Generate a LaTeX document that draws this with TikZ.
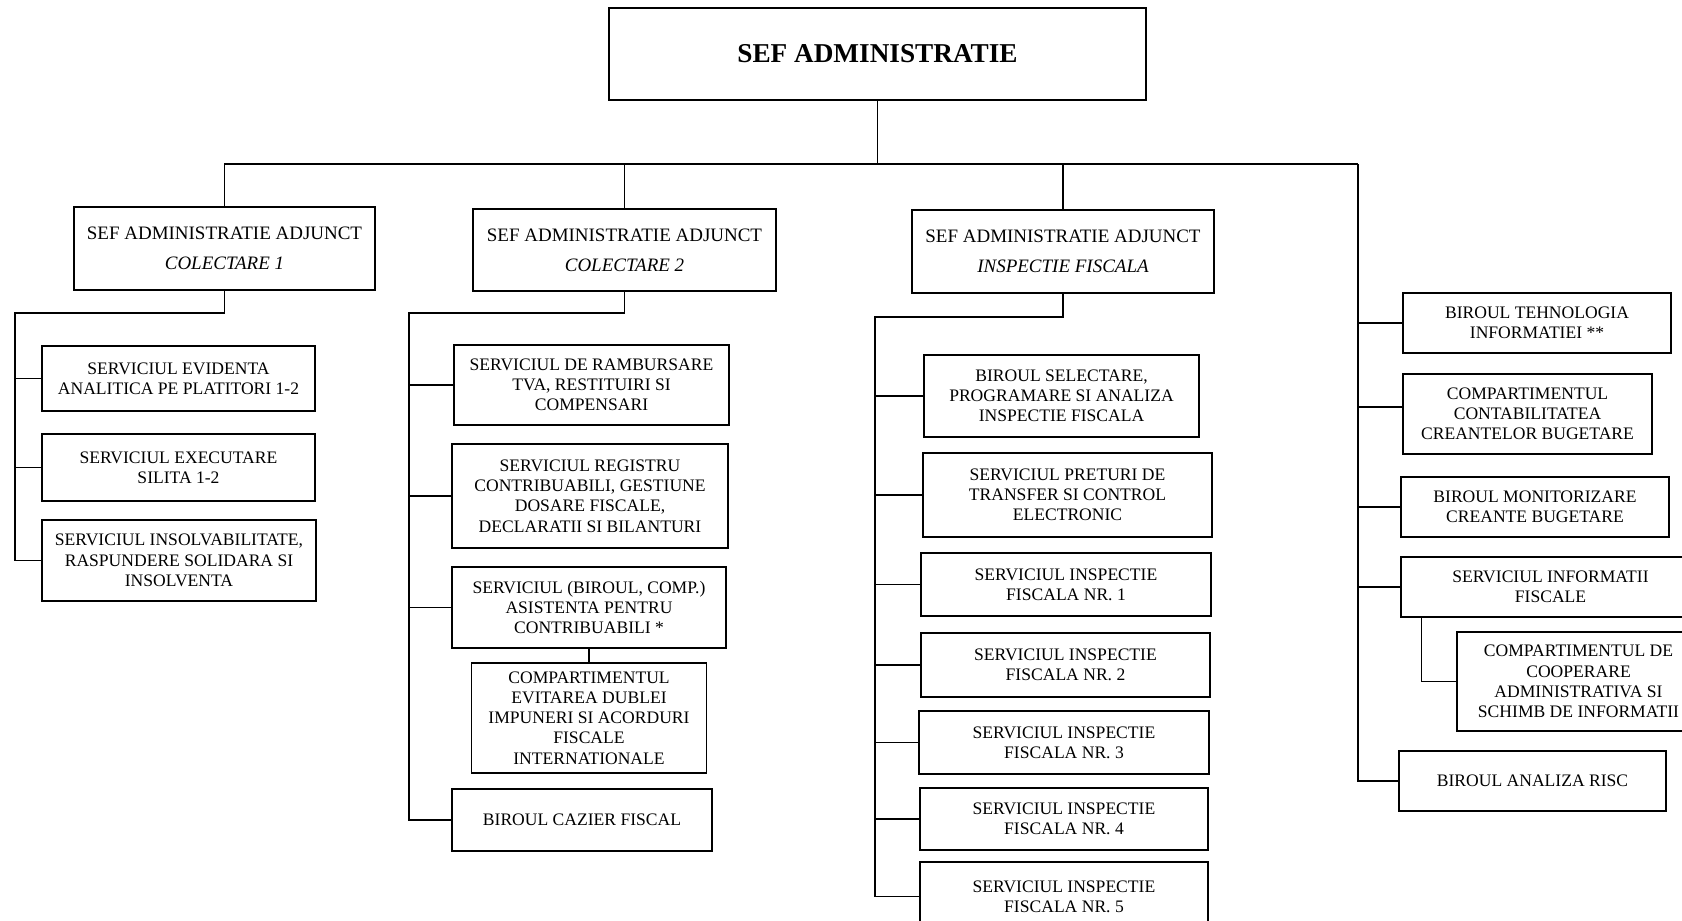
\documentclass[tikz,border=0pt]{standalone}
\usepackage{fontspec}
\setmainfont{Liberation Serif}
\begin{document}
\begin{tikzpicture}[x=0.02cm,y=-0.02cm,
  box/.style={draw, line width=0.9pt, inner sep=0pt, align=center, font=\fontsize{10}{11.5}\selectfont},
  sz/.style 2 args={minimum width=#1*0.02cm, minimum height=#2*0.02cm},
  head/.style={box, font=\fontsize{10.8}{17}\selectfont},
  topbox/.style={box, font=\fontsize{15.5}{19}\selectfont\bfseries},
  link/.style={line width=0.8pt}]
\useasboundingbox (0,0) rectangle (1682,920);
\clip (0,0) rectangle (1682,920);
\fill[white] (0,0) rectangle (1682,920);

% top
\node[topbox, sz={537}{92}] (top) at (877.5,54) {SEF ADMINISTRATIE};
% deputies
\node[head, sz={301}{83}] (b1) at (224.5,248.5) {SEF ADMINISTRATIE ADJUNCT\\\textit{COLECTARE 1}};
\node[head, sz={303}{82}] (b2) at (624.5,250) {SEF ADMINISTRATIE ADJUNCT\\\textit{COLECTARE 2}};
\node[head, sz={302}{83}] (b3) at (1063,251.5) {SEF ADMINISTRATIE ADJUNCT\\\textit{INSPECTIE FISCALA}};

% column 1
\node[box, sz={273}{65}] (c1a) at (178.5,378.5) {SERVICIUL EVIDENTA\\ANALITICA PE PLATITORI 1-2};
\node[box, sz={273}{67}] (c1b) at (178.5,467.5) {SERVICIUL EXECUTARE\\SILITA 1-2};
\node[box, sz={274}{81}] (c1c) at (179,560.5) {SERVICIUL INSOLVABILITATE,\\RASPUNDERE SOLIDARA SI\\INSOLVENTA};

% column 2
\node[box, sz={275}{80}] (c2a) at (591.5,385) {SERVICIUL DE RAMBURSARE\\TVA, RESTITUIRI SI\\COMPENSARI};
\node[box, sz={276}{104}] (c2b) at (590,496) {SERVICIUL REGISTRU\\CONTRIBUABILI, GESTIUNE\\DOSARE FISCALE,\\DECLARATII SI BILANTURI};
\node[box, sz={274}{81}] (c2c) at (589,607.5) {SERVICIUL (BIROUL, COMP.)\\ASISTENTA PENTRU\\CONTRIBUABILI *};
\node[box, sz={235}{110}] (c2d) at (589,718) {COMPARTIMENTUL\\EVITAREA DUBLEI\\IMPUNERI SI ACORDURI\\FISCALE\\INTERNATIONALE};
\node[box, sz={260}{62}] (c2e) at (582,820) {BIROUL CAZIER FISCAL};

% column 3
\node[box, sz={275}{82}] (c3a) at (1061.5,396) {BIROUL SELECTARE,\\PROGRAMARE SI ANALIZA\\INSPECTIE FISCALA};
\node[box, sz={289}{84}] (c3b) at (1067.5,495) {SERVICIUL PRETURI DE\\TRANSFER SI CONTROL\\ELECTRONIC};
\node[box, sz={290}{63}] (c3c) at (1066,584.5) {SERVICIUL INSPECTIE\\FISCALA NR. 1};
\node[box, sz={289}{64}] (c3d) at (1065.5,665) {SERVICIUL INSPECTIE\\FISCALA NR. 2};
\node[box, sz={290}{63}] (c3e) at (1064,742.5) {SERVICIUL INSPECTIE\\FISCALA NR. 3};
\node[box, sz={288}{62}] (c3f) at (1064,819) {SERVICIUL INSPECTIE\\FISCALA NR. 4};
\node[box, sz={288}{69}] (c3g) at (1064,896.5) {SERVICIUL INSPECTIE\\FISCALA NR. 5};

% right column
\node[box, sz={268}{60}] (r1) at (1537,323) {BIROUL TEHNOLOGIA\\INFORMATIEI **};
\node[box, sz={249}{80}] (r2) at (1527.5,414) {COMPARTIMENTUL\\CONTABILITATEA\\CREANTELOR BUGETARE};
\node[box, sz={268}{60}] (r3) at (1535,507) {BIROUL MONITORIZARE\\CREANTE BUGETARE};
\node[box, sz={299}{60}] (r4) at (1550.5,587) {SERVICIUL INFORMATII\\FISCALE};
\node[box, sz={243}{99}] (r5) at (1578.5,681.5) {COMPARTIMENTUL DE\\COOPERARE\\ADMINISTRATIVA SI\\SCHIMB DE INFORMATII};
\node[box, sz={267}{60}] (r6) at (1532.5,781) {BIROUL ANALIZA RISC};

% connectors: top level
\coordinate (bus) at (0,164);
\coordinate (rtop) at (1358,164);
\draw[link] (top.south) -- (top.south |- bus);
\draw[link] (b1.north) |- (rtop);
\draw[link] (b2.north) -- (b2.north |- bus);
\draw[link] (b3.north) -- (b3.north |- bus);
\draw[link] (rtop) |- (r6.west);
\draw[link] (rtop |- r1.west) -- (r1.west);
\draw[link] ([yshift=0.14cm]r2.west) -- ++(-45,0);
\draw[link] (rtop |- r3.west) -- (r3.west);
\draw[link] (rtop |- r4.west) -- (r4.west);
\draw[link] ([xshift=0.42cm]r4.south west) |- (r5.west);

% subtree 1
\coordinate (t1) at (15,313);
\draw[link] (b1.south) |- (t1) |- (c1c.west);
\draw[link] (t1 |- c1a.west) -- (c1a.west);
\draw[link] (t1 |- c1b.west) -- (c1b.west);

% subtree 2
\coordinate (t2) at (409,313);
\draw[link] (b2.south) |- (t2) |- (c2e.west);
\draw[link] (t2 |- c2a.west) -- (c2a.west);
\draw[link] (t2 |- c2b.west) -- (c2b.west);
\draw[link] (t2 |- c2c.west) -- (c2c.west);
\draw[link] (c2c.south) -- (c2d.north);

% subtree 3
\coordinate (t3) at (875,317);
\draw[link] (b3.south) |- (t3) |- (c3g.west);
\draw[link] (t3 |- c3a.west) -- (c3a.west);
\draw[link] (t3 |- c3b.west) -- (c3b.west);
\draw[link] (t3 |- c3c.west) -- (c3c.west);
\draw[link] (t3 |- c3d.west) -- (c3d.west);
\draw[link] (t3 |- c3e.west) -- (c3e.west);
\draw[link] (t3 |- c3f.west) -- (c3f.west);
\end{tikzpicture}
\end{document}
